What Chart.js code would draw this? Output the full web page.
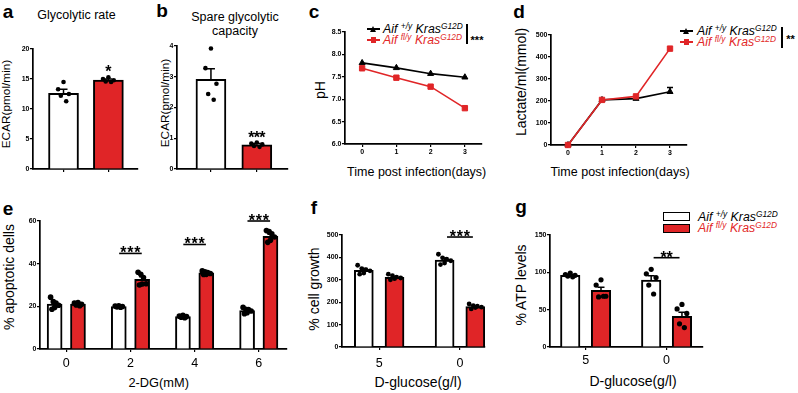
<!DOCTYPE html>
<html><head><meta charset="utf-8">
<script src="https://cdn.jsdelivr.net/npm/chart.js@4.4.1/dist/chart.umd.min.js"></script>
<style>
html,body{margin:0;padding:0;background:#fff}
body{position:relative;width:798px;height:393px;overflow:hidden;font-family:"Liberation Sans",Arial,Helvetica,sans-serif;color:#000}
.t{position:absolute;white-space:nowrap;line-height:1;transform:translate(-50%,-50%)}
.r{transform:translate(-50%,-50%) rotate(-90deg)}
.L{font-weight:bold;font-size:19px}
.lg{position:absolute;white-space:nowrap;line-height:1;transform:translateY(-50%);font-style:italic;font-size:12.3px}
.lg .s{font-size:0.68em;position:relative;top:-0.45em}
.red{color:rgb(226,40,40)}
.abs{position:absolute}
</style></head><body>
<!-- panel letters -->
<div class="t L" style="left:8px;top:11.2px">a</div>
<div class="t L" style="left:162px;top:10.4px">b</div>
<div class="t L" style="left:314px;top:11px">c</div>
<div class="t L" style="left:519px;top:10.7px">d</div>
<div class="t L" style="left:8px;top:207.7px">e</div>
<div class="t L" style="left:314px;top:206.7px">f</div>
<div class="t L" style="left:521px;top:206.2px">g</div>
<!-- titles -->
<div class="t" style="left:76.5px;top:15.3px;font-size:12.5px">Glycolytic rate</div>
<div class="t" style="left:235px;top:17px;font-size:12.5px">Spare glycolytic</div>
<div class="t" style="left:235px;top:31px;font-size:12.5px">capacity</div>
<!-- y titles -->
<div class="t r" style="left:7px;top:104px;font-size:11.8px">ECAR(pmol/min)</div>
<div class="t r" style="left:165.5px;top:103px;font-size:11.8px">ECAR(pmol/min)</div>
<div class="t r" style="left:320px;top:89.5px;font-size:14px">pH</div>
<div class="t r" style="left:521px;top:82px;font-size:14px">Lactate/ml(mmol)</div>
<div class="t r" style="left:8.5px;top:276.7px;font-size:14px">% apoptotic dells</div>
<div class="t r" style="left:314px;top:289px;font-size:14px">% cell growth</div>
<div class="t r" style="left:521px;top:285px;font-size:14px">% ATP levels</div>
<!-- x titles -->
<div class="t" style="left:416.7px;top:172px;font-size:12.5px">Time post infection(days)</div>
<div class="t" style="left:620px;top:172px;font-size:12.5px">Time post infection(days)</div>
<div class="t" style="left:158.7px;top:382.7px;font-size:12.8px">2-DG(mM)</div>
<div class="t" style="left:418px;top:381.7px;font-size:14px">D-glucose(g/l)</div>
<div class="t" style="left:633px;top:381px;font-size:14px">D-glucose(g/l)</div>
<!-- legend c -->
<div class="abs" style="left:367px;top:28.2px;width:13px;height:1.6px;background:#000"></div>
<div class="abs" style="left:370px;top:25.5px;width:0;height:0;border-left:3.5px solid transparent;border-right:3.5px solid transparent;border-bottom:6px solid #000"></div>
<div class="lg" style="left:383px;top:29px">Aif <span class="s">+/y</span> Kras<span class="s">G12D</span></div>
<div class="abs" style="left:367px;top:39.2px;width:13px;height:1.6px;background:rgb(224,37,39)"></div>
<div class="abs" style="left:370.8px;top:37.2px;width:5.6px;height:5.6px;background:rgb(224,37,39)"></div>
<div class="lg red" style="left:383px;top:40px">Aif <span class="s">fl/y</span> Kras<span class="s">G12D</span></div>
<div class="abs" style="left:466px;top:24px;width:1.6px;height:20px;background:#000"></div>
<div class="t" style="left:477px;top:40px;font-weight:bold;font-size:11px">***</div>
<!-- legend d -->
<div class="abs" style="left:680px;top:30.2px;width:13px;height:1.6px;background:#000"></div>
<div class="abs" style="left:683px;top:27.5px;width:0;height:0;border-left:3.5px solid transparent;border-right:3.5px solid transparent;border-bottom:6px solid #000"></div>
<div class="lg" style="left:697px;top:31px">Aif <span class="s">+/y</span> Kras<span class="s">G12D</span></div>
<div class="abs" style="left:680px;top:41.2px;width:13px;height:1.6px;background:rgb(224,37,39)"></div>
<div class="abs" style="left:683.8px;top:39.2px;width:5.6px;height:5.6px;background:rgb(224,37,39)"></div>
<div class="lg red" style="left:697px;top:42px">Aif <span class="s">fl/y</span> Kras<span class="s">G12D</span></div>
<div class="abs" style="left:781px;top:27px;width:1.6px;height:21px;background:#000"></div>
<div class="t" style="left:790.5px;top:38.5px;font-weight:bold;font-size:11px">**</div>
<!-- legend g -->
<div class="abs" style="left:663px;top:211.5px;width:27px;height:9px;border:1.6px solid #000;box-sizing:border-box;background:#fff"></div>
<div class="abs" style="left:663px;top:223.5px;width:27px;height:9.5px;border:1.6px solid #000;box-sizing:border-box;background:rgb(224,37,39)"></div>
<div class="lg" style="left:698px;top:216.5px">Aif <span class="s">+/y</span> Kras<span class="s">G12D</span></div>
<div class="lg red" style="left:698px;top:228px">Aif <span class="s">fl/y</span> Kras<span class="s">G12D</span></div>

<script>
// ================= DATA =================
// a: Glycolytic rate, ECAR (pmol/min)
const A_MEAN = [12.6, 14.8];
const A_SEM = [0.7, 0.2];
const A_DOTS = [[14.5, 13.3, 12.5, 12.2, 11.3], [15.3, 15.0, 14.8, 14.6, 14.5]];
const A_YTICKS = [0, 5, 10, 15, 20];

// b: Spare glycolytic capacity, ECAR (pmol/min)
const B_MEAN = [2.92, 0.79];
const B_SEM = [0.34, 0.04];
const B_DOTS = [[3.92, 3.28, 2.77, 2.44, 2.25], [0.86, 0.83, 0.80, 0.75, 0.72]];
const B_YTICKS = [0, 1, 2, 3, 4];

// c: pH over days post infection
const DAYS = [0, 1, 2, 3];
const C_WT = [7.81, 7.70, 7.57, 7.49];
const C_KO = [7.69, 7.48, 7.28, 6.80];
const C_YTICKS = [6.0, 6.5, 7.0, 7.5, 8.0, 8.5];
const C_YLABELS = ['6.0', '6.5', '7.0', '7.5', '8.0', '8.5'];

// d: Lactate/ml (mmol)
const D_WT = [0, 205, 211, 242];
const D_WT_SEM = [0, 0, 0, 19];
const D_KO = [0, 205, 221, 438];
const D_KO_SEM = [0, 0, 0, 0];
const D_YTICKS = [0, 100, 200, 300, 400, 500];

// e: % apoptotic cells vs 2-DG (mM)
const E_DOSES = ['0', '2', '4', '6'];
const E_MEAN_WT = [21.0, 19.9, 15.2, 18.0];
const E_SEM_WT = [1.0, 0.2, 0.3, 0.6];
const E_MEAN_KO = [21.0, 32.6, 35.7, 52.8];
const E_SEM_KO = [0.3, 1.3, 0.4, 1.0];
const E_DOTS_WT = [[24.3, 22.2, 21.5, 20.5, 19.5, 18.6], [20.3, 20.1, 19.9, 19.7, 19.6], [15.8, 15.4, 15.2, 14.9, 14.7], [19.5, 18.6, 18.5, 17.8, 17.0, 16.5]];
const E_DOTS_KO = [[21.8, 21.5, 21.0, 20.6, 20.3], [36.0, 35.0, 33.5, 30.6, 30.5, 30.0], [36.6, 36.2, 35.8, 35.4, 35.0, 34.9], [55.5, 55.0, 54.0, 52.5, 51.0, 50.0]];
const E_YTICKS = [0, 20, 40, 60];

// f: % cell growth vs D-glucose (g/l)
const GLUCOSE = ['5', '0'];
const F_MEAN_WT = [342, 388];
const F_SEM_WT = [8, 8];
const F_MEAN_KO = [311, 180];
const F_SEM_KO = [4, 3];
const F_DOTS_WT = [[365, 350, 345, 340, 330, 325], [414, 398, 392, 385, 375, 368]];
const F_DOTS_KO = [[325, 318, 312, 308, 305, 300], [192, 185, 182, 178, 176, 170]];
const F_YTICKS = [0, 100, 200, 300, 400, 500];

// g: % ATP levels vs D-glucose (g/l)
const G_MEAN_WT = [96, 89.5];
const G_SEM_WT = [1.2, 6];
const G_MEAN_KO = [76, 41];
const G_SEM_KO = [4, 5.5];
const G_DOTS_WT = [[99, 97, 96, 95, 94], [104, 98, 93, 83, 71]];
const G_DOTS_KO = [[90, 83, 68, 67, 68], [57, 51, 45, 31, 26]];
const G_YTICKS = [0, 50, 100, 150];

// ================= STYLE / LAYOUT =================
const FONT = '"Liberation Sans", Arial, Helvetica, sans-serif';
const RED = 'rgb(224,37,39)';
const TICKF = {family: FONT, size: 7, weight: 'bold'};
const BIGF = {family: FONT, size: 12.5};
const J5 = [0, -0.8, 0.8, -0.4, 0.4];
const J6 = [-0.9, -0.3, 0.3, 0.9, 0, -0.6];
const jit = (n, j) => (n === 5 ? J5 : J6)[j % (n === 5 ? 5 : 6)];

function mkCanvas(area, yw, xh) {
  const PT = 8, PR = 10;
  const w = Math.round(area.r - area.l + yw + PR), h = Math.round(area.b - area.t + PT + xh);
  const cv = document.createElement('canvas');
  cv.width = w; cv.height = h;
  cv.style.cssText = 'position:absolute;left:' + (area.l - yw) + 'px;top:' + (area.t - PT) + 'px;width:' + w + 'px;height:' + h + 'px;';
  document.body.appendChild(cv);
  return {cv, PT, PR};
}

function axisX(min, max, ticks, labels, font, xh, pad) {
  return {
    type: 'linear', min, max, bounds: 'data', offset: false,
    afterBuildTicks: s => { s.ticks = ticks.map(v => ({value: v})); },
    afterFit: s => { s.height = xh; },
    ticks: {autoSkip: false, maxRotation: 0, minRotation: 0, color: '#000', font, padding: pad,
            callback: (v, i) => labels ? labels[i] : ''},
    grid: {display: true, drawOnChartArea: false, drawTicks: true, tickLength: 3, color: '#000', lineWidth: 1.2, offset: false},
    border: {display: true, color: '#000', width: 1.7}
  };
}
function axisY(min, max, ticks, labels, yw) {
  return {
    type: 'linear', min, max, bounds: 'data',
    afterBuildTicks: s => { s.ticks = ticks.map(v => ({value: v})); },
    afterFit: s => { s.width = yw; },
    ticks: {autoSkip: false, color: '#000', font: TICKF, padding: 0.5, callback: (v, i) => labels[i]},
    grid: {display: true, drawOnChartArea: false, drawTicks: true, tickLength: 3, color: '#000', lineWidth: 1.2},
    border: {display: true, color: '#000', width: 1.7}
  };
}

function annot(errs, sigs) {
  return {
    id: 'annot',
    afterDatasetsDraw(chart) {
      const {ctx, scales: {x, y}} = chart;
      ctx.save();
      ctx.strokeStyle = '#000';
      ctx.lineWidth = 1.5;
      for (const e of errs) {
        if (!e.e) continue;
        const px = x.getPixelForValue(e.x), p0 = y.getPixelForValue(e.y), p1 = y.getPixelForValue(e.y + e.e);
        ctx.beginPath();
        ctx.moveTo(px, p0); ctx.lineTo(px, p1);
        ctx.moveTo(px - e.cap, p1); ctx.lineTo(px + e.cap, p1);
        ctx.stroke();
      }
      ctx.fillStyle = '#000';
      ctx.font = 'bold 16px ' + FONT;
      ctx.textAlign = 'center';
      ctx.textBaseline = 'alphabetic';
      for (const s of sigs) {
        const py = y.getPixelForValue(s.y);
        let cx;
        if (s.x1 !== undefined) {
          const a = x.getPixelForValue(s.x1), b = x.getPixelForValue(s.x2);
          ctx.lineWidth = 1.6;
          ctx.beginPath(); ctx.moveTo(a, py); ctx.lineTo(b, py); ctx.stroke();
          cx = (a + b) / 2;
        } else cx = x.getPixelForValue(s.x);
        for (let i = 0; i < s.n; i++) ctx.fillText('*', cx + (i - (s.n - 1) / 2) * s.sp, py + 5);
      }
      ctx.restore();
    }
  };
}

function barPanel(area, P) {
  const {cv, PT, PR} = mkCanvas(area, P.yw, P.xh);
  const datasets = [], errs = [];
  P.series.forEach(S => {
    datasets.push({type: 'bar', data: S.xs.map((x, i) => ({x, y: S.mean[i]})), backgroundColor: S.fill,
      borderColor: '#000', borderWidth: 2, borderSkipped: 'start', grouped: false,
      maxBarThickness: P.thick, barPercentage: 1, categoryPercentage: 1, order: 2});
    const pts = [];
    S.xs.forEach((x, i) => S.dots[i].forEach((v, j) => pts.push({x: x + jit(S.dots[i].length, j) * P.spread, y: v})));
    datasets.push({type: 'scatter', data: pts, pointRadius: P.dotR, pointBackgroundColor: '#000',
      pointBorderColor: '#000', pointBorderWidth: 0, order: 1, clip: false});
    S.xs.forEach((x, i) => errs.push({x, y: S.mean[i], e: S.sem[i], cap: P.cap}));
  });
  new Chart(cv, {
    type: 'bar',
    data: {datasets},
    options: {
      responsive: false, animation: false, events: [],
      layout: {padding: {top: PT, right: PR, left: 0, bottom: 0}},
      plugins: {legend: {display: false}, tooltip: {enabled: false}},
      scales: {
        x: axisX(P.xmin, P.xmax, P.xticks, P.xlabels, P.xfont, P.xh, P.xpad),
        y: axisY(P.ymin, P.ymax, P.yticks, P.ylabels, P.yw)
      }
    },
    plugins: [annot(errs, P.sig)]
  });
}

function linePanel(area, P) {
  const {cv, PT, PR} = mkCanvas(area, P.yw, P.xh);
  const errs = [];
  DAYS.forEach((d, i) => {
    errs.push({x: d, y: P.wt[i], e: P.wtSem ? P.wtSem[i] : 0, cap: 3});
    errs.push({x: d, y: P.ko[i], e: P.koSem ? P.koSem[i] : 0, cap: 3});
  });
  new Chart(cv, {
    type: 'line',
    data: {datasets: [
      {label: 'Aif +/y KrasG12D', data: DAYS.map((d, i) => ({x: d, y: P.wt[i]})), borderColor: '#000', backgroundColor: '#000',
       borderWidth: 1.6, pointStyle: 'triangle', pointRadius: 3.5, pointBorderWidth: 1, tension: 0, order: 1, clip: false},
      {label: 'Aif fl/y KrasG12D', data: DAYS.map((d, i) => ({x: d, y: P.ko[i]})), borderColor: RED, backgroundColor: RED,
       borderWidth: 1.6, pointStyle: 'rect', pointRadius: 3.8, pointBorderWidth: 1, tension: 0, order: 0, clip: false}
    ]},
    options: {
      responsive: false, animation: false, events: [],
      layout: {padding: {top: PT, right: PR, left: 0, bottom: 0}},
      plugins: {legend: {display: false}, tooltip: {enabled: false}},
      scales: {
        x: axisX(-0.5, 3.5, DAYS, DAYS.map(String), TICKF, P.xh, 1),
        y: axisY(P.ymin, P.ymax, P.yticks, P.ylabels, P.yw)
      }
    },
    plugins: [annot(errs, [])]
  });
}

// ---- a ----
barPanel({l: 33, t: 49, r: 138, b: 169}, {
  yw: 28, xh: 10, xmin: -0.68, xmax: 1.66, xticks: [0, 1], xlabels: null, xfont: TICKF, xpad: 1,
  ymin: 0, ymax: 20, yticks: A_YTICKS, ylabels: A_YTICKS.map(String),
  thick: 30, dotR: 2.3, spread: 0.15, cap: 4,
  series: [
    {xs: [0], mean: [A_MEAN[0]], sem: [A_SEM[0]], dots: [A_DOTS[0]], fill: '#fff'},
    {xs: [1], mean: [A_MEAN[1]], sem: [A_SEM[1]], dots: [A_DOTS[1]], fill: RED}
  ],
  sig: [{x: 1, y: 16.2, n: 1, sp: 0}]
});
// ---- b ----
barPanel({l: 177, t: 46, r: 288, b: 169}, {
  yw: 28, xh: 10, xmin: -0.74, xmax: 1.68, xticks: [0, 1], xlabels: null, xfont: TICKF, xpad: 1,
  ymin: 0, ymax: 4, yticks: B_YTICKS, ylabels: B_YTICKS.map(String),
  thick: 30, dotR: 2.3, spread: 0.15, cap: 4,
  series: [
    {xs: [0], mean: [B_MEAN[0]], sem: [B_SEM[0]], dots: [B_DOTS[0]], fill: '#fff'},
    {xs: [1], mean: [B_MEAN[1]], sem: [B_SEM[1]], dots: [B_DOTS[1]], fill: RED}
  ],
  sig: [{x: 1, y: 1.0, n: 3, sp: 5.5}]
});
// ---- c ----
linePanel({l: 345, t: 32, r: 482, b: 144}, {
  yw: 28, xh: 14, ymin: 6, ymax: 8.5, yticks: C_YTICKS, ylabels: C_YLABELS, wt: C_WT, ko: C_KO
});
// ---- d ----
linePanel({l: 551, t: 35, r: 687, b: 145}, {
  yw: 28, xh: 14, ymin: 0, ymax: 500, yticks: D_YTICKS, ylabels: D_YTICKS.map(String),
  wt: D_WT, ko: D_KO, wtSem: D_WT_SEM, koSem: D_KO_SEM
});
// ---- e ----
const E_OFF = 0.182;
barPanel({l: 40, t: 221, r: 287, b: 349}, {
  yw: 28, xh: 24, xmin: -0.41, xmax: 3.44, xticks: [0, 1, 2, 3], xlabels: E_DOSES, xfont: BIGF, xpad: 4,
  ymin: 0, ymax: 60, yticks: E_YTICKS, ylabels: E_YTICKS.map(String),
  thick: 15, dotR: 2.8, spread: 0.07, cap: 3,
  series: [
    {xs: [0, 1, 2, 3].map(g => g - E_OFF), mean: E_MEAN_WT, sem: E_SEM_WT, dots: E_DOTS_WT, fill: '#fff'},
    {xs: [0, 1, 2, 3].map(g => g + E_OFF), mean: E_MEAN_KO, sem: E_SEM_KO, dots: E_DOTS_KO, fill: RED}
  ],
  sig: [
    {x1: 1 - 0.176, x2: 1 + 0.176, y: 44.8, n: 3, sp: 7},
    {x1: 2 - 0.176, x2: 2 + 0.176, y: 49, n: 3, sp: 7},
    {x1: 3 - 0.176, x2: 3 + 0.176, y: 60, n: 3, sp: 7}
  ]
});
// ---- f ----
const FG_OFF = 0.19;
barPanel({l: 342, t: 235, r: 485, b: 347}, {
  yw: 28, xh: 26, xmin: -0.46, xmax: 1.31, xticks: [0, 1], xlabels: GLUCOSE, xfont: BIGF, xpad: 6,
  ymin: 0, ymax: 500, yticks: F_YTICKS, ylabels: F_YTICKS.map(String),
  thick: 19, dotR: 2.4, spread: 0.085, cap: 3.5,
  series: [
    {xs: [0, 1].map(g => g - FG_OFF), mean: F_MEAN_WT, sem: F_SEM_WT, dots: F_DOTS_WT, fill: '#fff'},
    {xs: [0, 1].map(g => g + FG_OFF), mean: F_MEAN_KO, sem: F_SEM_KO, dots: F_DOTS_KO, fill: RED}
  ],
  sig: [{x1: 1 - 0.16, x2: 1 + 0.16, y: 491, n: 3, sp: 7}]
});
// ---- g ----
barPanel({l: 550, t: 235, r: 703, b: 347}, {
  yw: 28, xh: 24, xmin: -0.44, xmax: 1.45, xticks: [0, 1], xlabels: GLUCOSE, xfont: BIGF, xpad: 3,
  ymin: 0, ymax: 150, yticks: G_YTICKS, ylabels: G_YTICKS.map(String),
  thick: 19.5, dotR: 2.6, spread: 0.075, cap: 3.5,
  series: [
    {xs: [0, 1].map(g => g - FG_OFF), mean: G_MEAN_WT, sem: G_SEM_WT, dots: G_DOTS_WT, fill: '#fff'},
    {xs: [0, 1].map(g => g + FG_OFF), mean: G_MEAN_KO, sem: G_SEM_KO, dots: G_DOTS_KO, fill: RED}
  ],
  sig: [{x1: 1 - 0.16, x2: 1 + 0.16, y: 119.6, n: 2, sp: 6}]
});
</script>
</body></html>
